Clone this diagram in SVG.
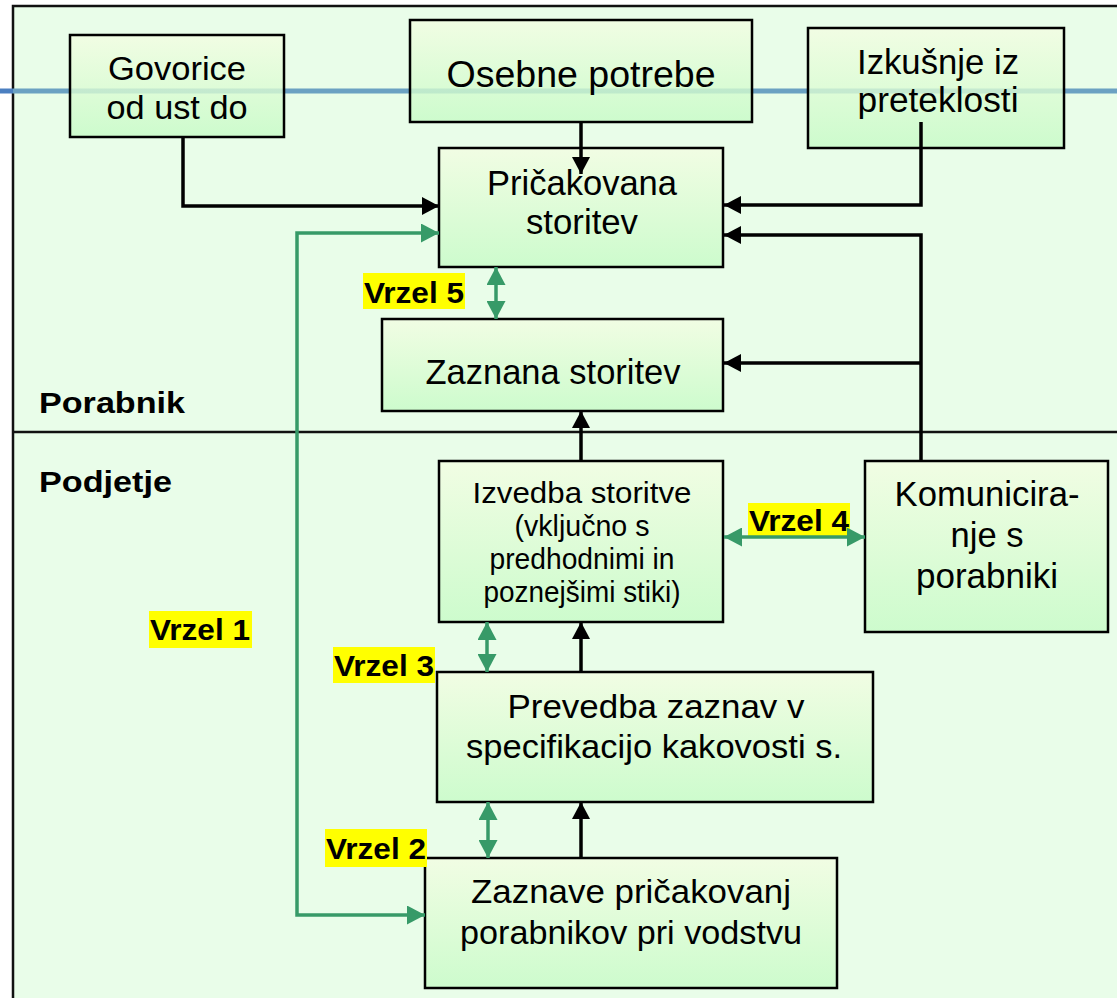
<svg xmlns="http://www.w3.org/2000/svg" width="1117" height="998" viewBox="0 0 1117 998">
  <defs>
    <linearGradient id="boxFill" x1="0" y1="0" x2="0" y2="1">
      <stop offset="0" stop-color="#f3fde2"/>
      <stop offset="1" stop-color="#c6fbc6"/>
    </linearGradient>
    <marker id="arrowBlack" viewBox="0 0 17 18" refX="17" refY="9" markerWidth="17" markerHeight="18" markerUnits="userSpaceOnUse" orient="auto-start-reverse">
      <path d="M0,0 L17,9 L0,18 Z" fill="#000"/>
    </marker>
    <marker id="arrowGreen" viewBox="0 0 18 19" refX="18" refY="9.5" markerWidth="18" markerHeight="19" markerUnits="userSpaceOnUse" orient="auto-start-reverse">
      <path d="M0,0 L18,9.5 L0,19 Z" fill="#379a68"/>
    </marker>
    <style>
      .box { fill: url(#boxFill); fill-opacity: 0.8; stroke: #000; stroke-width: 2.5; }
      .t { font-family: "Liberation Sans", Arial, sans-serif; fill: #000; text-anchor: middle; }
      .hdr { font-family: "Liberation Sans", Arial, sans-serif; font-weight: bold; font-size: 30px; fill: #000; }
      .gap { font-family: "Liberation Sans", Arial, sans-serif; font-weight: bold; font-size: 30px; fill: #000; }
      .hl { fill: #ffff00; }
      .blk { fill: none; stroke: #000; stroke-width: 3.5; marker-end: url(#arrowBlack); }
      .grn { fill: none; stroke: #379a68; stroke-width: 3.5; marker-end: url(#arrowGreen); }
      .dbl { marker-start: url(#arrowGreen); }
    </style>
  </defs>

  <!-- page background and frame -->
  <rect x="0" y="0" width="1117" height="998" fill="#ffffff"/>
  <rect x="13" y="6" width="1120" height="1000" fill="#e9fde9" stroke="#111" stroke-width="2.5"/>
  <!-- divider between customer and company zones -->
  <line x1="13" y1="432" x2="1117" y2="432" stroke="#111" stroke-width="2.5"/>
  <!-- blue guide line running across the top -->
  <line x1="13" y1="91" x2="1117" y2="91" stroke="#6ba1c2" stroke-width="5"/>
  <line x1="0" y1="91" x2="13" y2="91" stroke="#4b7fc0" stroke-width="5"/>

  <text class="hdr" x="39" y="413" textLength="146" lengthAdjust="spacingAndGlyphs">Porabnik</text>
  <text class="hdr" x="39" y="492" textLength="133" lengthAdjust="spacingAndGlyphs">Podjetje</text>

  <g id="govorice">
    <rect class="box" x="70" y="35" width="214" height="102"/>
    <text class="t" font-size="34" x="177" y="80" textLength="138" lengthAdjust="spacingAndGlyphs">Govorice</text>
    <text class="t" font-size="34" x="177" y="119" textLength="141" lengthAdjust="spacingAndGlyphs">od ust do</text>
  </g>

  <g id="osebne-potrebe">
    <rect class="box" x="410" y="20" width="342" height="102"/>
    <text class="t" font-size="36" x="581" y="87" textLength="269" lengthAdjust="spacingAndGlyphs">Osebne potrebe</text>
  </g>

  <g id="izkusnje">
    <rect class="box" x="808" y="28" width="256" height="120"/>
    <text class="t" font-size="35" x="938" y="74" textLength="162" lengthAdjust="spacingAndGlyphs">Izkušnje iz</text>
    <text class="t" font-size="35" x="938" y="112" textLength="161" lengthAdjust="spacingAndGlyphs">preteklosti</text>
  </g>

  <g id="pricakovana-storitev">
    <rect class="box" x="439" y="148" width="284" height="119"/>
    <text class="t" font-size="35" x="582" y="195" textLength="190" lengthAdjust="spacingAndGlyphs">Pričakovana</text>
    <text class="t" font-size="35" x="582" y="234" textLength="112" lengthAdjust="spacingAndGlyphs">storitev</text>
  </g>

  <g id="zaznana-storitev">
    <rect class="box" x="382" y="319" width="341" height="92"/>
    <text class="t" font-size="35" x="553" y="384" textLength="255" lengthAdjust="spacingAndGlyphs">Zaznana storitev</text>
  </g>

  <g id="izvedba-storitve">
    <rect class="box" x="439" y="461" width="284" height="161"/>
    <text class="t" font-size="30" x="582" y="503" textLength="219" lengthAdjust="spacingAndGlyphs">Izvedba storitve</text>
    <text class="t" font-size="30" x="582" y="536" textLength="135" lengthAdjust="spacingAndGlyphs">(vključno s</text>
    <text class="t" font-size="30" x="582" y="569" textLength="185" lengthAdjust="spacingAndGlyphs">predhodnimi in</text>
    <text class="t" font-size="30" x="582" y="602" textLength="197" lengthAdjust="spacingAndGlyphs">poznejšimi stiki)</text>
  </g>

  <g id="komuniciranje">
    <rect class="box" x="865" y="461" width="243" height="171"/>
    <text class="t" font-size="35" x="987" y="506" textLength="185" lengthAdjust="spacingAndGlyphs">Komunicira-</text>
    <text class="t" font-size="35" x="987" y="547" textLength="73" lengthAdjust="spacingAndGlyphs">nje s</text>
    <text class="t" font-size="35" x="987" y="588" textLength="142" lengthAdjust="spacingAndGlyphs">porabniki</text>
  </g>

  <g id="prevedba">
    <rect class="box" x="437" y="672" width="436" height="130"/>
    <text class="t" font-size="33" x="656" y="718" textLength="297" lengthAdjust="spacingAndGlyphs">Prevedba zaznav v</text>
    <text class="t" font-size="33" x="654" y="758" textLength="376" lengthAdjust="spacingAndGlyphs">specifikacijo kakovosti s.</text>
  </g>

  <g id="zaznave-pricakovanj">
    <rect class="box" x="425" y="858" width="412" height="130"/>
    <text class="t" font-size="34" x="631" y="903" textLength="320" lengthAdjust="spacingAndGlyphs">Zaznave pričakovanj</text>
    <text class="t" font-size="34" x="631" y="944" textLength="342" lengthAdjust="spacingAndGlyphs">porabnikov pri vodstvu</text>
  </g>

  <!-- gap labels -->
  <g id="gap-labels">
    <rect class="hl" x="363" y="273" width="102" height="36"/>
    <text class="gap" x="364" y="303" textLength="100" lengthAdjust="spacingAndGlyphs">Vrzel 5</text>
    <rect class="hl" x="748" y="503" width="102" height="35"/>
    <text class="gap" x="749" y="531" textLength="100" lengthAdjust="spacingAndGlyphs">Vrzel 4</text>
    <rect class="hl" x="333" y="647" width="102" height="36"/>
    <text class="gap" x="334" y="676" textLength="100" lengthAdjust="spacingAndGlyphs">Vrzel 3</text>
    <rect class="hl" x="325" y="829" width="102" height="38"/>
    <text class="gap" x="326" y="859" textLength="100" lengthAdjust="spacingAndGlyphs">Vrzel 2</text>
    <rect class="hl" x="149" y="611" width="103" height="37"/>
    <text class="gap" x="150" y="640" textLength="100" lengthAdjust="spacingAndGlyphs">Vrzel 1</text>
  </g>

  <g id="connectors">
    <!-- influences on expected service -->
    <path class="blk" d="M183,137 V206 H439"/>
    <path class="blk" d="M581,122 V174"/>
    <path class="blk" d="M921,122 V205 H724"/>
    <path class="blk" d="M921,461 V235 H724"/>
    <path class="blk" d="M921,363 H724"/>
    <!-- company flow upwards -->
    <path class="blk" d="M581,461 V411"/>
    <path class="blk" d="M581,672 V622"/>
    <path class="blk" d="M581,858 V802"/>
    <!-- gaps -->
    <path class="grn dbl" d="M439,233 H297 V915 H425"/>
    <path class="grn dbl" d="M496,267 V319"/>
    <path class="grn dbl" d="M724,537 H865"/>
    <path class="grn dbl" d="M487,622 V672"/>
    <path class="grn dbl" d="M488,802 V858"/>
  </g>
</svg>
